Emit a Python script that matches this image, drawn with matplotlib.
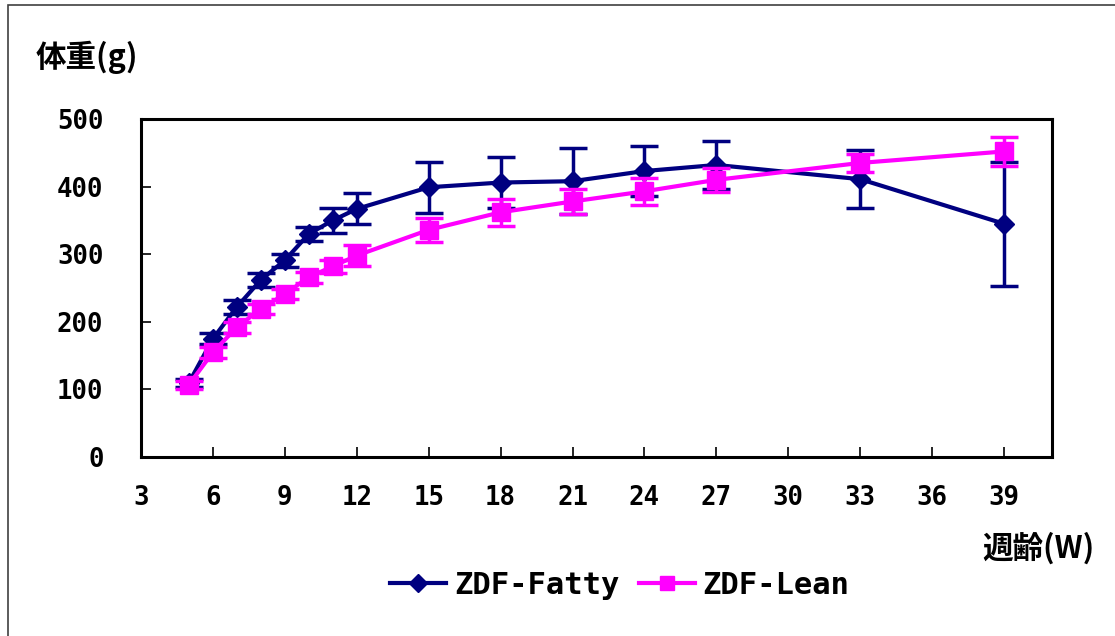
import matplotlib
matplotlib.use("Agg")
import matplotlib.pyplot as plt
from matplotlib.lines import Line2D
from matplotlib.patches import Rectangle

plt.rcParams['font.family'] = ['DejaVu Sans Mono', 'Noto Sans CJK JP']

weeks = [5, 6, 7, 8, 9, 10, 11, 12, 15, 18, 21, 24, 27, 33, 39]
fatty = [110, 175, 222, 262, 291, 330, 350, 367, 399, 406, 408, 423, 432, 411, 345]
fatty_err = [6, 8, 10, 10, 10, 10, 19, 23, 38, 38, 49, 37, 36, 43, 92]
lean = [107, 155, 192, 219, 241, 266, 282, 298, 336, 362, 378, 393, 410, 435, 452]
lean_err = [6, 8, 8, 8, 8, 8, 10, 15, 18, 20, 18, 20, 18, 13, 22]

xticks = [3, 6, 9, 12, 15, 18, 21, 24, 27, 30, 33, 36, 39]
yticks = [0, 100, 200, 300, 400, 500]

navy = '#000080'
magenta = '#FF00FF'

fig = plt.figure(figsize=(11.15, 6.36), dpi=100)
ax = fig.add_axes([141/1115, 1 - 457/636, (1052-141)/1115, (457-119)/636])

ax.errorbar(weeks, fatty, yerr=fatty_err, color=navy, lw=3, marker='D', ms=10.5,
            mfc=navy, mec=navy, elinewidth=2.5, capsize=10, capthick=2.5, zorder=3)
ax.errorbar(weeks, lean, yerr=lean_err, color=magenta, lw=3, marker='s', ms=13,
            mfc=magenta, mec=magenta, elinewidth=2.5, capsize=10, capthick=2.5, zorder=4)

ax.set_xlim(3, 41)
ax.set_ylim(0, 500)
ax.set_xticks(xticks)
ax.set_yticks(yticks)
ax.tick_params(direction='in', length=7, width=1.2, labelsize=18.5)
ax.tick_params(axis='y', pad=27)
ax.tick_params(axis='x', pad=20)
for lab in ax.get_xticklabels() + ax.get_yticklabels():
    lab.set_fontweight('bold')
for s in ax.spines.values():
    s.set_linewidth(2.2)
    s.set_color('black')

jp = ['Noto Sans CJK JP', 'DejaVu Sans']
fig.text(36/1115, 1 - 57/636, '体重(g)', fontsize=22, fontweight='bold', va='center', ha='left', family=jp)
fig.text(1095/1115, 1 - 548/636, '週齢(W)', fontsize=22, fontweight='bold', va='center', ha='right', family=jp)

handles = [Line2D([], [], color=navy, lw=3, marker='D', ms=9.3),
           Line2D([], [], color=magenta, lw=3, marker='s', ms=10)]
fig.legend(handles, ['ZDF-Fatty', 'ZDF-Lean'], loc='center', bbox_to_anchor=(620/1115, 1 - 585/636),
           ncol=2, frameon=False, prop={'size': 22, 'weight': 'bold'}, handlelength=1.83,
           handletextpad=0.26, columnspacing=0.62, borderpad=0, borderaxespad=0)

# outer frame (left and top edges visible)
fig.add_artist(Rectangle((8/1115, -0.1), 1.2, (636-5)/636 + 0.1, transform=fig.transFigure,
                         fill=False, ec='#404040', lw=1.2))

fig.savefig('out.png', dpi=100)
